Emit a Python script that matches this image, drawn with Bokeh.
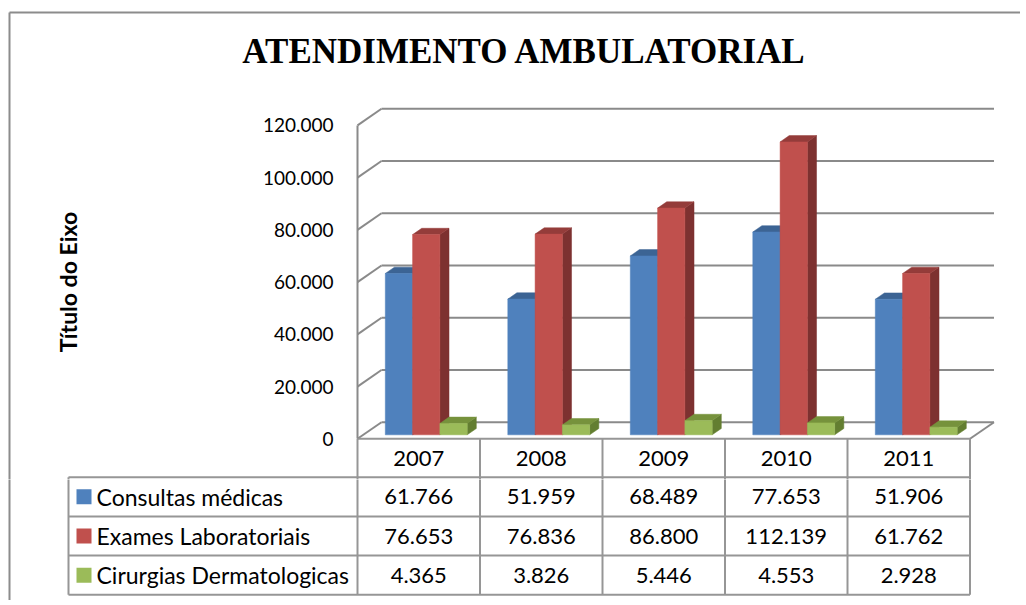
from bokeh.plotting import figure
from bokeh.models import Range1d, LinearAxis, FixedTicker, ColumnDataSource
from bokeh.layouts import column
from bokeh.embed import file_html
from bokeh.resources import INLINE
from bokeh.core.properties import value

# ---------------- data ----------------
categories = ["2007", "2008", "2009", "2010", "2011"]
series_names = ["Consultas médicas", "Exames Laboratoriais", "Cirurgias Dermatologicas"]
consultas = [61766, 51959, 68489, 77653, 51906]
exames = [76653, 76836, 86800, 112139, 61762]
cirurgias = [4365, 3826, 5446, 4553, 2928]
y_ticks = [0, 20000, 40000, 60000, 80000, 100000, 120000]
y_tick_labels = ["0", "20.000", "40.000", "60.000", "80.000", "100.000", "120.000"]
title_text = "ATENDIMENTO AMBULATORIAL"
axis_title = "Título do Eixo"

front_colors = ["#4F81BD", "#C0504D", "#9BBB59"]
top_colors = ["#3C6494", "#943C3A", "#76923C"]
side_colors = ["#2F5078", "#7D3130", "#637E31"]
grid_color = "#8A8A8A"
table_color = "#969696"
frame_color = "#8C8C8C"

def fmt(v):
    return f"{v:,}".replace(",", ".")

# ---------------- layout geometry (canvas pixels) ----------------
W, H = 1020, 600
CHART_H = 479
TABLE_H = H - CHART_H
COL_PX = 122.5              # width of one category column
X0_PX = 357.0               # canvas x of the front-left wall
FLOOR_PY = 438.3            # canvas y of the front floor edge
VPP = 1000 / 2.612          # value units per pixel
HEADER_BOTTOM_PY = 476.7
n = len(categories)

def px_x(px):
    return (px - X0_PX) / COL_PX

def py_y(py):
    return (FLOOR_PY - py) * VPP

DXu = 24 / COL_PX           # wall depth, x
DYv = 16.6 * VPP            # wall depth, y
Z0, DZ = 0.24, 0.38         # bar front depth and bar depth (fraction of wall depth)
GROUP_OFF = 27.8 / COL_PX
BW = 27.3 / COL_PX
LEG_LEFT = px_x(68)

x_range = Range1d(px_x(0), px_x(W))

# ---------------- chart figure ----------------
p = figure(width=W, height=CHART_H, x_range=x_range,
           y_range=Range1d(py_y(CHART_H), py_y(0)),
           x_axis_type=None, y_axis_type=None, toolbar_location=None,
           output_backend="svg", min_border=0, outline_line_color=None)
p.background_fill_color = "white"
p.border_fill_color = "white"

# outer frame of the chart object
p.segment(x0=[px_x(9), px_x(9)], y0=[py_y(12), py_y(12)],
          x1=[px_x(W + 20), px_x(9)], y1=[py_y(12), py_y(CHART_H + 5)],
          line_color=frame_color, line_width=2)

# walls / gridlines
gx0, gy0, gx1, gy1 = [], [], [], []
for tk in y_ticks:
    gx0 += [DXu, 0]
    gy0 += [tk + DYv, tk]
    gx1 += [n + DXu, DXu]
    gy1 += [tk + DYv, tk + DYv]
gx0 += [n]
gy0 += [0]
gx1 += [n + DXu]
gy1 += [DYv]
p.segment(x0=gx0, y0=gy0, x1=gx1, y1=gy1, line_color=grid_color, line_width=2)

# data-table header row (floor edge = its top line)
hb = py_y(HEADER_BOTTOM_PY)
p.segment(x0=[0, LEG_LEFT], y0=[0, hb], x1=[n, n], y1=[0, hb],
          line_color=table_color, line_width=2)
p.segment(x0=list(range(n + 1)) + [LEG_LEFT], y0=[0] * (n + 1) + [hb],
          x1=list(range(n + 1)) + [LEG_LEFT], y1=[py_y(CHART_H + 5)] * (n + 2),
          line_color=table_color, line_width=2)
p.text(x=[k + 0.5 for k in range(n)], y=[hb / 2] * n, text=categories,
       text_font=value("Lato"), text_font_size=value("22px"), text_align="center",
       text_baseline="middle", text_color="black")

# 3D bars
xs, ys, cols = [], [], []
all_series = [consultas, exames, cirurgias]
ddx, ddy = DZ * DXu, DZ * DYv
for k in range(n):
    for s, vals in enumerate(all_series):
        v = vals[k]
        xl = k + GROUP_OFF + s * BW
        xr = xl + BW
        yb = Z0 * DYv
        yt = yb + v
        xs.append([xr, xr + ddx, xr + ddx, xr]); ys.append([yb, yb + ddy, yt + ddy, yt]); cols.append(side_colors[s])
        xs.append([xl, xr, xr + ddx, xl + ddx]); ys.append([yt, yt, yt + ddy, yt + ddy]); cols.append(top_colors[s])
        xs.append([xl, xr, xr, xl]); ys.append([yb, yb, yt, yt]); cols.append(front_colors[s])
bar_src = ColumnDataSource(dict(xs=xs, ys=ys, c=cols))
p.patches("xs", "ys", source=bar_src, fill_color="c", line_color="c", line_width=0.5)

# title
p.text(x=[px_x(524)], y=[py_y(51)], text=[title_text], text_font=value("Liberation Serif"),
       text_font_style="bold", text_font_size=value("35px"), text_align="center",
       text_baseline="middle", text_color="black")

# value axis on the front-left wall
yaxis = LinearAxis(fixed_location=0, ticker=FixedTicker(ticks=y_ticks),
                   major_label_overrides={tk: l for tk, l in zip(y_ticks, y_tick_labels)},
                   bounds=(y_ticks[0], y_ticks[-1]))
yaxis.axis_line_color = grid_color
yaxis.axis_line_width = 2
yaxis.major_tick_line_color = None
yaxis.minor_tick_line_color = None
yaxis.major_tick_out = 0
yaxis.major_tick_in = 0
yaxis.major_label_standoff = 24
yaxis.major_label_text_font = "Lato"
yaxis.major_label_text_font_size = "19px"
yaxis.major_label_text_color = "black"
yaxis.axis_label = axis_title
yaxis.axis_label_text_font = "Lato"
yaxis.axis_label_text_font_style = "bold"
yaxis.axis_label_text_font_size = "23px"
yaxis.axis_label_text_color = "black"
yaxis.axis_label_standoff = 178
p.add_layout(yaxis, "left")

# ---------------- data table rows figure ----------------
RH = 39.2
TABLE_BOTTOM = 594.3 - CHART_H
nrows = len(series_names)
t = figure(width=W, height=TABLE_H, x_range=x_range,
           y_range=Range1d(-(TABLE_H - TABLE_BOTTOM) / RH, TABLE_BOTTOM / RH),
           x_axis_type=None, y_axis_type=None, toolbar_location=None,
           output_backend="svg", min_border=0, outline_line_color=None)
t.background_fill_color = "white"
t.border_fill_color = "white"

hx0 = [LEG_LEFT] * nrows
hy = list(range(nrows))
hx1 = [n] * nrows
vx = [LEG_LEFT] + list(range(n + 1))
vy0 = [0] * (n + 2)
vy1 = [nrows + 1] * (n + 2)
t.segment(x0=hx0 + vx, y0=hy + vy0, x1=hx1 + vx, y1=hy + vy1,
          line_color=table_color, line_width=2)
# outer frame left edge
t.segment(x0=[px_x(9)], y0=[-1], x1=[px_x(9)], y1=[nrows + 2],
          line_color=frame_color, line_width=2)

row_y = [nrows - 0.5 - r for r in range(nrows)]
vx_, vy_, vt_ = [], [], []
for r, vals in enumerate(all_series):
    for k in range(n):
        vx_.append(k + 0.5); vy_.append(row_y[r]); vt_.append(fmt(vals[k]))
t.text(x=vx_, y=vy_, text=vt_, text_font=value("Lato"), text_font_size=value("22px"),
       text_align="center", text_baseline="middle", text_color="black")
# legend keys
t.scatter(x=[px_x(83.5)] * nrows, y=row_y, marker="square", size=15,
          fill_color=front_colors, line_color=None)
t.text(x=[px_x(96)] * nrows, y=row_y, text=series_names, text_font=value("Lato"),
       text_font_size=value("23px"), text_align="left", text_baseline="middle",
       text_color="black")

layout = column(p, t, spacing=0)
open("out.html", "w").write(file_html(layout, INLINE))
